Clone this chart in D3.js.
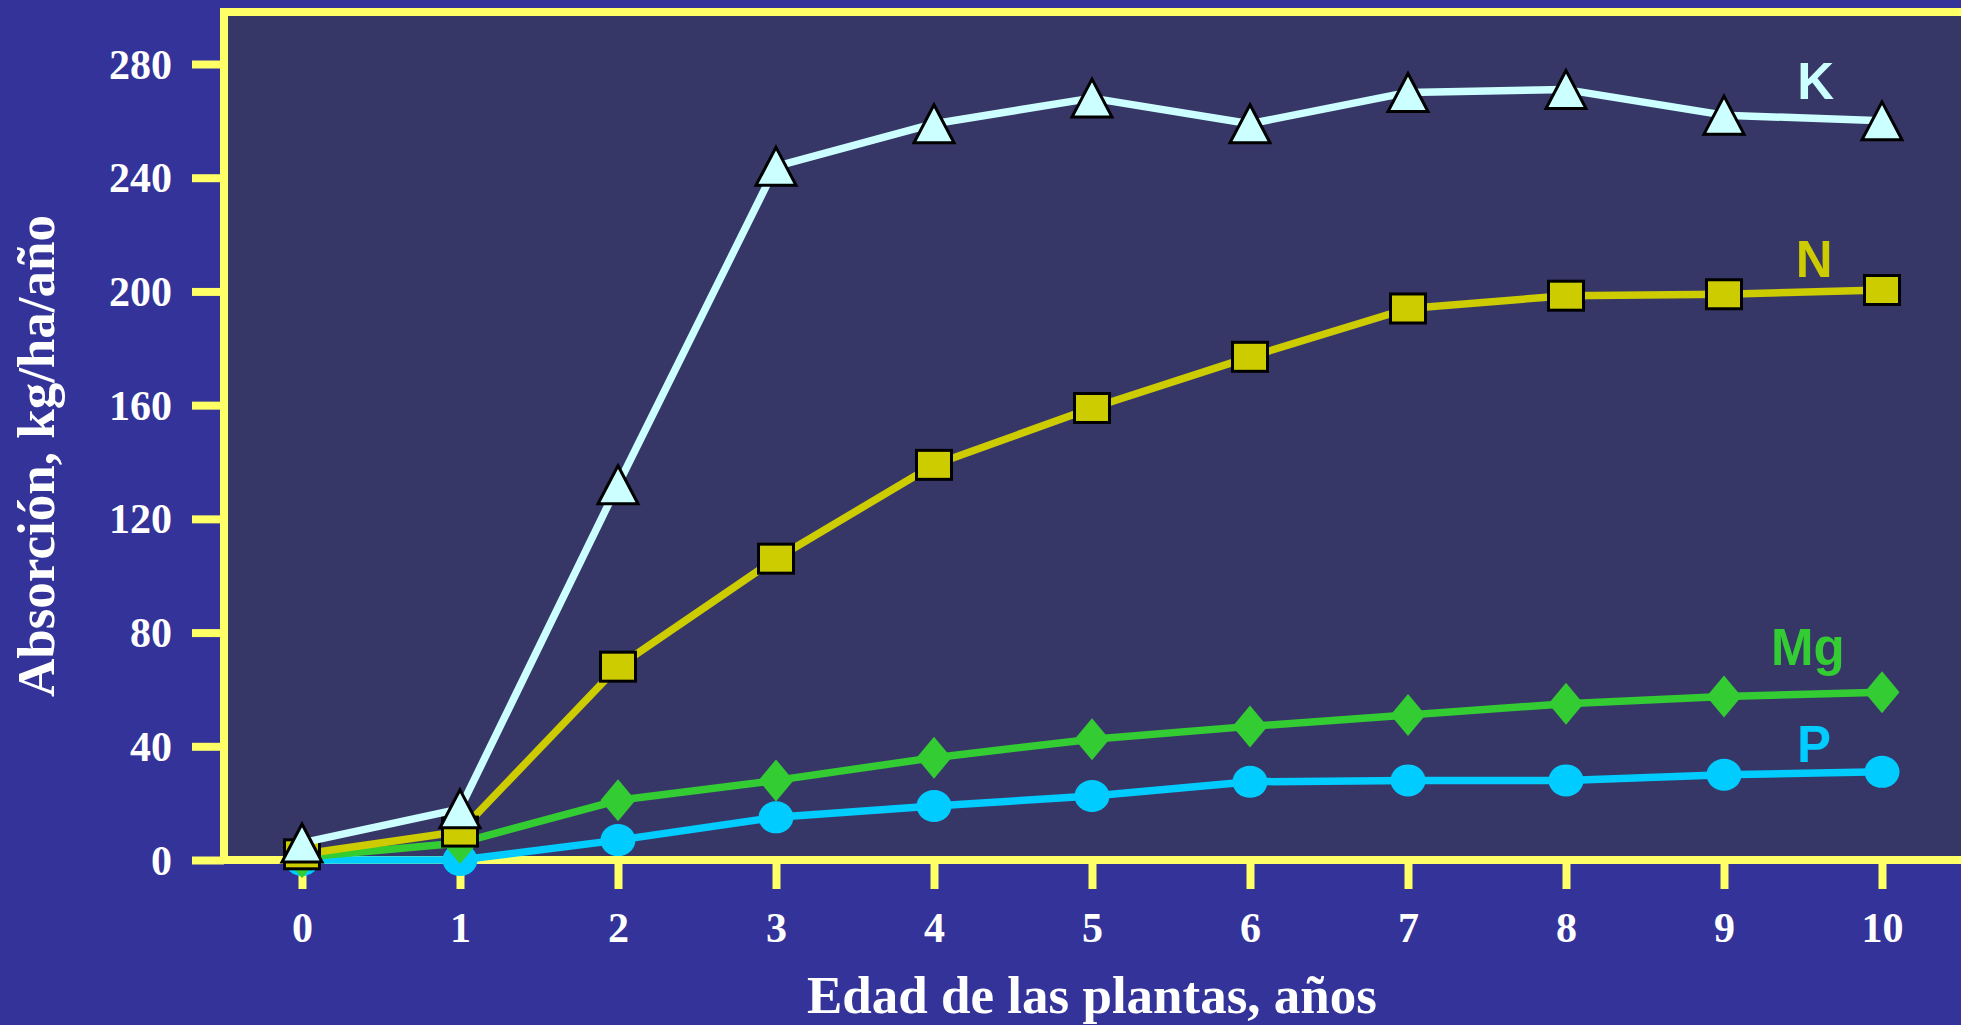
<!DOCTYPE html>
<html lang="es">
<head>
<meta charset="utf-8">
<title>Absorción de nutrientes según la edad de las plantas</title>
<script src="https://cdn.jsdelivr.net/npm/d3@7"></script>
<style>
  html, body { margin: 0; padding: 0; background: #333399; overflow: hidden; }
  svg { display: block; }
  .tick-label { font-family: "Liberation Serif", "Times New Roman", serif; font-weight: bold; fill: #ffffff; }
  .axis-title { font-family: "Liberation Serif", "Times New Roman", serif; font-weight: bold; fill: #ffffff; font-size: 53px; }
  .series-label { font-family: "Liberation Sans", Arial, sans-serif; font-weight: bold; font-size: 51px; }
</style>
</head>
<body>
<svg id="chart" width="1961" height="1025"></svg>
<script>
// Edad de las plantas (años)
const years = [0, 1, 2, 3, 4, 5, 6, 7, 8, 9, 10];

// Absorción anual por nutriente, kg/ha/año
const potasio   = [6, 18, 132, 244, 259, 268, 259, 270, 271, 262, 260];
const nitrogeno = [2, 10, 68, 106, 139, 159, 177, 194, 198.5, 199, 200.5];
const magnesio  = [1, 6, 21, 28, 36, 42.5, 47, 51, 55, 57.5, 59];
const fosforo   = [0, 0, 7, 15, 19, 22.5, 27.5, 28, 28, 30, 31];

// Marcas del eje vertical
const yTicks = [0, 40, 80, 120, 160, 200, 240, 280];

// Orden de dibujo: P, Mg, N y K (K queda encima)
const series = [
  { name: "P",  values: fosforo,   color: "#00CCFF", marker: "circle",   labelAt: [9.57, 34.5] },
  { name: "Mg", values: magnesio,  color: "#33CC33", marker: "diamond",  labelAt: [9.53, 68.6] },
  { name: "N",  values: nitrogeno, color: "#CCCC00", marker: "square",   labelAt: [9.57, 205] },
  { name: "K",  values: potasio,   color: "#CCFFFF", marker: "triangle", labelAt: [9.58, 267.7] }
];

const svg = d3.select("#chart");

const x = d3.scaleLinear().domain([0, 10]).range([302, 1882]);
const y = d3.scaleLinear().domain([0, 280]).range([860, 64]);

const yellow = "#FFFF66";
const frameLeft = 224, frameTop = 12, frameBottom = y(0);

// Área del gráfico con marco amarillo (el borde derecho queda fuera de la vista)
svg.append("rect")
  .attr("x", frameLeft)
  .attr("y", frameTop)
  .attr("width", 1961 + 40 - frameLeft)
  .attr("height", frameBottom - frameTop)
  .attr("fill", "#373767")
  .attr("stroke", yellow)
  .attr("stroke-width", 8);

// Eje Y
const yAxis = svg.append("g")
  .attr("transform", `translate(${frameLeft},0)`)
  .call(d3.axisLeft(y).tickValues(yTicks).tickSize(32).tickPadding(20).tickFormat(d3.format("d")));
yAxis.select(".domain").remove();
yAxis.selectAll(".tick line").attr("stroke", yellow).attr("stroke-width", 8);
yAxis.selectAll(".tick text")
  .attr("class", "tick-label")
  .attr("font-size", 42)
  .attr("dy", 14)
  .attr("fill", "#ffffff")
  .style("font-family", "'Liberation Serif','Times New Roman',serif")
  .style("font-weight", "bold");

// Eje X
const xAxis = svg.append("g")
  .attr("transform", `translate(0,${frameBottom})`)
  .call(d3.axisBottom(x).tickValues(years).tickSize(29).tickFormat(d3.format("d")));
xAxis.select(".domain").remove();
xAxis.selectAll(".tick line").attr("stroke", yellow).attr("stroke-width", 8).attr("y1", 4);
xAxis.selectAll(".tick text")
  .attr("class", "tick-label")
  .attr("font-size", 42)
  .attr("y", 82)
  .attr("dy", null)
  .attr("fill", "#ffffff")
  .style("font-family", "'Liberation Serif','Times New Roman',serif")
  .style("font-weight", "bold");

// Redibujar la línea base amarilla sobre las marcas
svg.append("line")
  .attr("x1", frameLeft - 4).attr("x2", 1961 + 10)
  .attr("y1", frameBottom).attr("y2", frameBottom)
  .attr("stroke", yellow).attr("stroke-width", 8);

// Títulos de los ejes
svg.append("text")
  .attr("class", "axis-title")
  .attr("x", 1092)
  .attr("y", 1013)
  .attr("text-anchor", "middle")
  .text("Edad de las plantas, años");

svg.append("text")
  .attr("class", "axis-title")
  .attr("transform", "translate(54,456) rotate(-90)")
  .attr("text-anchor", "middle")
  .text("Absorción, kg/ha/año");

// Formas de los marcadores
const markerPath = {
  triangle: "M0,-19L20,19L-20,19Z",
  diamond: "M0,-21L17.5,0L0,21L-17.5,0Z"
};

const line = d3.line()
  .x((d, i) => x(years[i]))
  .y(d => y(d));

const plot = svg.append("g");

series.forEach(s => {
  const g = plot.append("g").attr("class", "series series-" + s.name);

  g.append("path")
    .datum(s.values)
    .attr("d", line)
    .attr("fill", "none")
    .attr("stroke", s.color)
    .attr("stroke-width", 7.5)
    .attr("stroke-linejoin", "round");

  const pts = g.selectAll(".pt")
    .data(s.values)
    .enter()
    .append("g")
    .attr("class", "pt")
    .attr("transform", (d, i) => `translate(${x(years[i])},${y(d)})`);

  if (s.marker === "circle") {
    pts.append("ellipse").attr("rx", 17.5).attr("ry", 16).attr("fill", s.color);
  } else if (s.marker === "square") {
    pts.append("rect")
      .attr("x", -17.5).attr("y", -14.5).attr("width", 35).attr("height", 29)
      .attr("fill", s.color).attr("stroke", "#000").attr("stroke-width", 3);
  } else if (s.marker === "diamond") {
    pts.append("path").attr("d", markerPath.diamond).attr("fill", s.color);
  } else {
    pts.append("path").attr("d", markerPath.triangle)
      .attr("fill", s.color).attr("stroke", "#000").attr("stroke-width", 3)
      .attr("stroke-linejoin", "miter");
  }
});

// Etiquetas de las series
svg.append("g").selectAll("text")
  .data(series)
  .enter()
  .append("text")
  .attr("class", "series-label")
  .attr("x", d => x(d.labelAt[0]))
  .attr("y", d => y(d.labelAt[1]))
  .attr("text-anchor", "middle")
  .attr("fill", d => d.color)
  .text(d => d.name);
</script>
</body>
</html>
